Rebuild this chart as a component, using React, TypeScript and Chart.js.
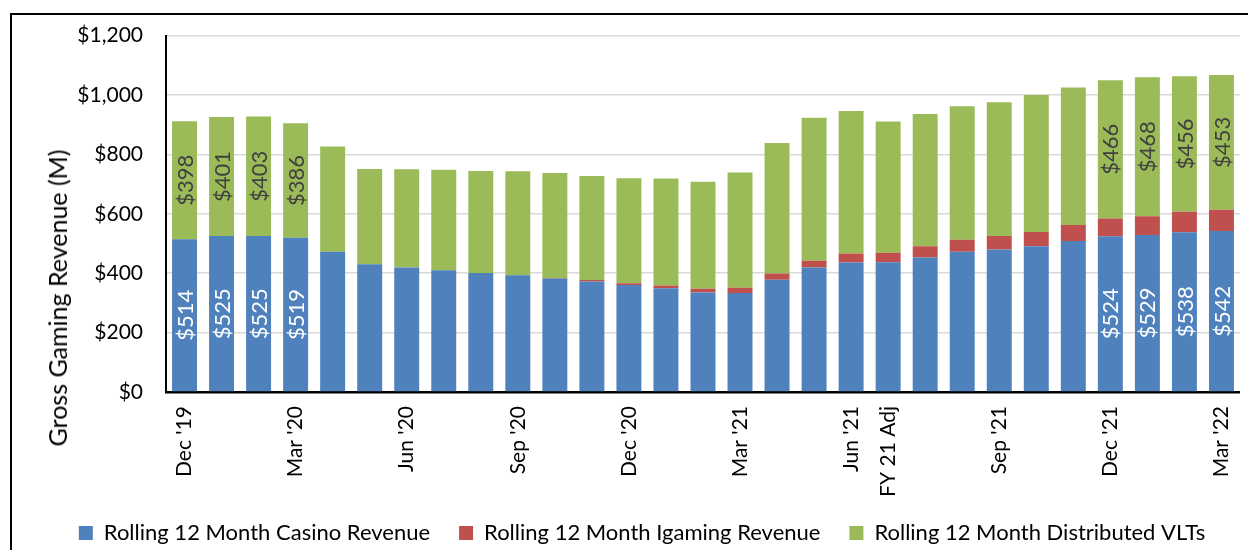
import React, { useEffect, useRef } from "react";
import { Chart, registerables } from "chart.js";

Chart.register(...registerables);

// ---- Data ----
const categories = [
  "Dec '19", "Jan '20", "Feb '20", "Mar '20", "Apr '20", "May '20", "Jun '20", "Jul '20",
  "Aug '20", "Sep '20", "Oct '20", "Nov '20", "Dec '20", "Jan '21", "Feb '21", "Mar '21",
  "Apr '21", "May '21", "Jun '21", "FY 21 Adj", "Jul '21", "Aug '21", "Sep '21", "Oct '21",
  "Nov '21", "Dec '21", "Jan '22", "Feb '22", "Mar '22",
];
const shownTickLabels = [
  "Dec '19", "Mar '20", "Jun '20", "Sep '20", "Dec '20", "Mar '21", "Jun '21", "FY 21 Adj",
  "Sep '21", "Dec '21", "Mar '22",
];
const casinoRevenue = [
  514, 525, 525, 519, 472, 430, 419, 410, 401, 393, 382, 372, 360, 349, 335, 333,
  378, 419, 436, 437, 453, 472, 480, 491, 508, 524, 529, 538, 542,
];
const igamingRevenue = [
  0, 0, 0, 0, 0, 0, 0, 0, 0, 1, 2, 5, 6, 10, 13, 18,
  21, 23, 30, 32, 38, 41, 45, 48, 54, 60, 63, 69, 72,
];
const distributedVlts = [
  398, 401, 403, 386, 355, 321, 331, 338, 343, 349, 353, 350, 354, 360, 360, 388,
  439, 481, 480, 442, 445, 449, 451, 461, 463, 466, 468, 456, 453,
];
const labeledIndices = [0, 1, 2, 3, 25, 26, 27, 28];
const yTicks = [0, 200, 400, 600, 800, 1000, 1200];

const seriesNames = [
  "Rolling 12 Month Casino Revenue",
  "Rolling 12 Month Igaming Revenue",
  "Rolling 12 Month Distributed VLTs",
];
const titleText =
  "Figure 4: Rolling 12 Month Gross Gaming Revenue Trend, Casino, Igaming & Distributed VLTs, Monthly, Including FY 21 Adjustment";

const FONT = "Lato, 'Open Sans', sans-serif";
const CANVAS_W = 1261;
const CANVAS_H = 554;

const valueLabelPlugin = {
  id: "valueLabels",
  afterLayout(chart: any) {
    // let the rotated category labels extend below the axis box without being clipped
    const x = chart.scales.x;
    if (x) x.bottom = x.top + 130;
  },
  afterDatasetsDraw(chart: any) {
    const ctx = chart.ctx;
    const specs = [
      { ds: 0, color: "#ffffff" },
      { ds: 2, color: "#404040" },
    ];
    ctx.save();
    ctx.font = `22px ${FONT}`;
    ctx.textAlign = "center";
    ctx.textBaseline = "middle";
    specs.forEach(({ ds, color }) => {
      const meta = chart.getDatasetMeta(ds);
      const values = chart.data.datasets[ds].data as number[];
      labeledIndices.forEach((i) => {
        const el: any = meta.data[i];
        if (!el) return;
        const cx = el.x;
        const cy = (el.y + el.base) / 2;
        ctx.save();
        ctx.translate(cx, cy);
        ctx.rotate(-Math.PI / 2);
        ctx.fillStyle = color;
        ctx.fillText("$" + values[i], 0, 1);
        ctx.restore();
      });
    });
    ctx.restore();
  },
};

export default function App() {
  const canvasRef = useRef<HTMLCanvasElement | null>(null);

  useEffect(() => {
    document.body.style.margin = "0";
    document.body.style.overflow = "hidden";
    const canvas = canvasRef.current;
    if (!canvas) return;
    const chart = new Chart(canvas, {
      type: "bar",
      data: {
        labels: categories,
        datasets: [
          { label: seriesNames[0], data: casinoRevenue, backgroundColor: "#4F81BD" },
          { label: seriesNames[1], data: igamingRevenue, backgroundColor: "#C0504D" },
          { label: seriesNames[2], data: distributedVlts, backgroundColor: "#9BBB59" },
        ],
      },
      options: {
        responsive: false,
        animation: false,
        events: [],
        datasets: { bar: { barPercentage: 0.674, categoryPercentage: 1 } },
        layout: { padding: { left: 43, top: 34, right: CANVAS_W - 1241, bottom: 0 } },
        scales: {
          x: {
            stacked: true,
            grid: { display: false, drawTicks: false },
            border: { display: true, color: "#000", width: 2.5 },
            ticks: {
              autoSkip: false,
              minRotation: 90,
              maxRotation: 90,
              padding: 14,
              color: "#000",
              font: { family: FONT, size: 21 },
              callback: (_v: any, i: number) =>
                shownTickLabels.includes(categories[i]) ? categories[i] : "",
            },
            afterFit: (s: any) => {
              s.height = 101;
            },
          },
          y: {
            stacked: true,
            min: yTicks[0],
            max: yTicks[yTicks.length - 1],
            grid: { color: "#d9d9d9", lineWidth: 1.5, drawTicks: false },
            border: { display: true, color: "#000", width: 2 },
            ticks: {
              stepSize: 200,
              padding: 23,
              color: "#000",
              font: { family: FONT, size: 21 },
              callback: (v: any) => "$" + Number(v).toLocaleString("en-US"),
            },
            afterFit: (s: any) => {
              s.width = 123;
            },
          },
        },
        plugins: {
          legend: {
            position: "bottom",
            labels: {
              boxWidth: 14,
              boxHeight: 14,
              padding: 29,
              color: "#000",
              font: { family: FONT, size: 22 },
            },
          },
          tooltip: { enabled: false },
          title: { display: false },
        },
      },
      plugins: [valueLabelPlugin],
    } as any);
    return () => chart.destroy();
  }, []);

  return (
    <div
      style={{
        position: "fixed",
        left: 0,
        top: 0,
        width: 1248,
        height: 550,
        overflow: "hidden",
        background: "#fff",
      }}
    >
      <div
        style={{
          position: "absolute",
          left: -10,
          top: -22,
          lineHeight: "20px",
          fontSize: 20,
          fontWeight: 700,
          fontFamily: FONT,
          whiteSpace: "nowrap",
          color: "#000",
        }}
      >
        {titleText}
      </div>
      <div
        style={{
          position: "absolute",
          left: 10,
          top: 13,
          width: 1400,
          height: 700,
          border: "2px solid #000",
          boxSizing: "border-box",
        }}
      />
      <canvas
        ref={canvasRef}
        width={CANVAS_W}
        height={CANVAS_H}
        style={{ position: "absolute", left: 0, top: 0, display: "block" }}
      />
      <div
        style={{
          position: "absolute",
          left: 57,
          top: 298,
          transform: "translate(-50%, -50%) rotate(-90deg)",
          fontSize: 25,
          fontFamily: FONT,
          whiteSpace: "nowrap",
          color: "#000",
        }}
      >
        Gross Gaming Revenue (M)
      </div>
    </div>
  );
}
